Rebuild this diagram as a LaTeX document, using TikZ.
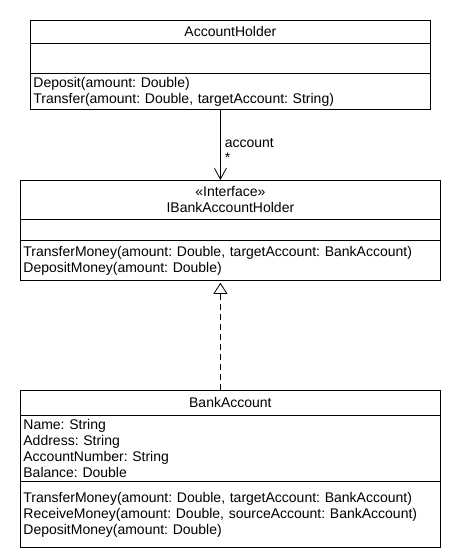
\documentclass[tikz,border=0pt]{standalone}
\usepackage{fontspec}
\setmainfont{Liberation Sans}
\usetikzlibrary{arrows.meta}
\frenchspacing

\begin{document}
\begin{tikzpicture}[x=1pt,y=-1pt,
        cell/.style={draw,line width=0.8pt,anchor=north west,inner xsep=3pt,inner ysep=0pt,
            align=left,font=\fontsize{14}{16}\selectfont},
        wide/.style={cell,text width=414pt},
        narrow/.style={cell,text width=394pt},
        lbl/.style={anchor=west,inner sep=0pt,xshift=4pt,font=\fontsize{14}{16}\selectfont}]
                \useasboundingbox (0,0) rectangle (460,560);
                \node[narrow,align=center,minimum height=23pt] (holderT) at (30,20) {AccountHolder};
                \node[narrow,minimum height=30pt] (holderA) at (30,43) {};
                \node[narrow,minimum height=36pt] (holderO) at (30,73)
                    {Deposit(amount: Double)\\Transfer(amount: Double, targetAccount: String)};
                \node[wide,align=center,minimum height=39pt] (ifaceT) at (20,180)
                    {«Interface»\\IBankAccountHolder};
                \node[wide,minimum height=21pt] (ifaceA) at (20,219) {};
                \node[wide,minimum height=40pt] (ifaceO) at (20,240)
                    {TransferMoney(amount: Double, targetAccount: BankAccount)\\DepositMoney(amount: Double)};
                \node[wide,align=center,minimum height=25pt] (bankT) at (20,390) {BankAccount};
                \node[wide,minimum height=66pt] (bankA) at (20,415)
                    {Name: String\\Address: String\\AccountNumber: String\\Balance: Double};
                \node[wide,minimum height=66pt] (bankO) at (20,481)
                    {TransferMoney(amount: Double, targetAccount: BankAccount)\\
                     ReceiveMoney(amount: Double, sourceAccount: BankAccount)\\
                     DepositMoney(amount: Double)};
                \draw[line width=0.8pt,-{Straight Barb[length=11pt,width=12pt]}]
                    ([xshift=-10pt]holderO.south) -- ([xshift=-10pt]ifaceT.north)
                    node[lbl,pos=0.48] {account}
                    node[lbl,pos=0.68] {*};
                \draw[line width=0.8pt,dash pattern=on 6pt off 4pt,-{Triangle[open,length=11pt,width=14pt]}]
                    ([xshift=-10pt]bankT.north) -- ([xshift=-10pt,yshift=-2pt]ifaceO.south);
            \end{tikzpicture}
\end{document}
